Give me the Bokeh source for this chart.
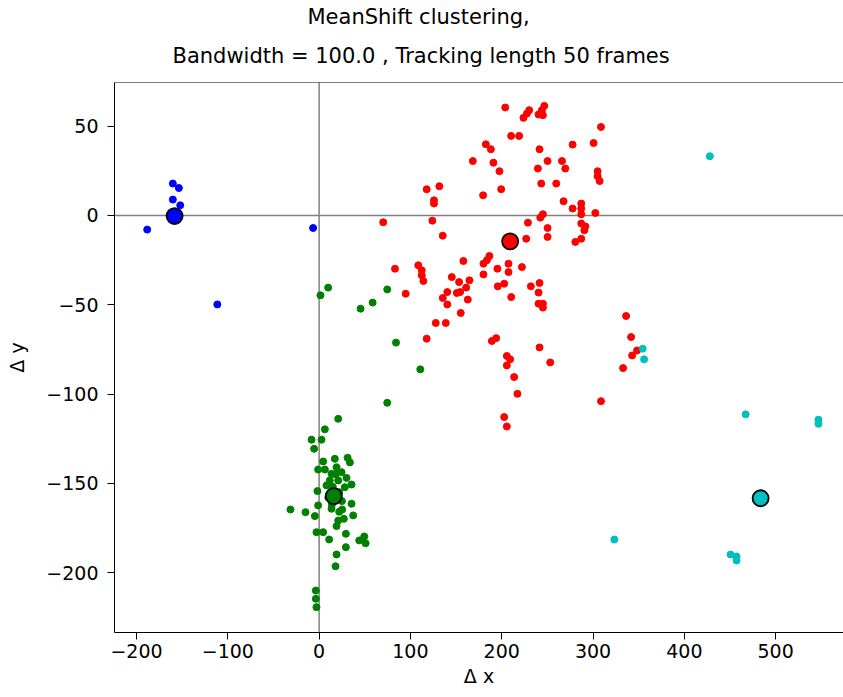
from bokeh.plotting import figure
from bokeh.models import Span, Title, FixedTicker, Range1d
from bokeh.embed import file_html
from bokeh.resources import INLINE

# ---- data ----
blue_x = [-160.2, -153.6, -160.2, -152.1, -188.3, -6.6, -111.5, -158.0]
blue_y = [17.9, 15.4, 8.9, 5.7, -7.9, -7.0, -49.8, 0.5]

green_x = [9.9, 1.5, 74.6, 58.6, 45.4, 84.2, 110.8, 74.6,
           20.9, 6.3, -8.3, 2.6, -5.5, 4.4, 31.2, 33.7, 17.2, -1.1, 6.3, 19.1,
           24.6, 13.6, 11.7, 20.9, 35.5, 8.1, 28.2, -1.8, -31.4, -14.9, -4.7,
           -1.1, 13.6, 25.2, 35.5, 37.3, 27.1, 20.9, 19.1, -2.9, 4.4, 11.0,
           29.3, 43.9, 49.4, 50.9, 29.3, 19.1, 18.0, -3.6, -3.6, -2.9,
           18.0, 22.0, 10.0, 25.0, 14.0, 30.0, 15.0, 22.0]
green_y = [-40.4, -44.7, -41.4, -48.8, -52.2, -71.2, -86.2, -104.9,
           -113.9, -119.8, -125.6, -125.6, -130.7, -137.8, -135.7, -138.3, -136.3, -142.3, -142.3, -141.0,
           -143.8, -144.7, -148.4, -148.4, -150.7, -151.2, -152.2, -154.4, -164.7, -166.2, -168.4,
           -162.4, -164.3, -164.7, -161.5, -168.0, -169.9, -170.9, -174.0, -177.4, -177.4, -181.5,
           -178.3, -182.0, -179.8, -183.6, -185.8, -189.9, -196.5, -210.1, -214.7, -219.4,
           -145.0, -155.0, -158.0, -160.0, -162.0, -147.0, -152.0, -166.0]

red_x = [203.8, 230.1, 227.6, 223.8, 246.6, 244.0, 240.3, 245.1, 308.7, 210.3,
         219.1, 182.6, 188.1, 241.4, 277.6, 300.6, 168.3, 190.9, 250.2, 266.0,
         269.6, 239.6, 197.5, 305.0, 305.0, 307.2, 243.3, 259.7, 117.8, 131.7,
         199.4, 125.8, 125.8, 179.6, 267.7, 287.1, 277.6, 287.1, 287.1, 302.5,
         245.1, 242.2, 70.2, 124.0, 228.7, 250.2, 287.1, 291.6, 290.5, 135.4,
         226.8, 250.2, 280.6, 287.1, 158.0, 186.5, 183.7, 180.0, 207.4, 222.1,
         83.1, 108.6, 195.3, 112.4, 112.4, 114.2, 207.4, 180.0, 145.3, 153.3,
         164.6, 161.0, 154.4, 150.8, 140.4, 135.4, 140.4, 162.8, 155.1, 94.8,
         195.7, 202.7, 210.4, 231.9, 241.4, 240.3, 240.3, 245.1, 245.1, 127.7,
         138.7, 117.8, 189.2, 193.9, 241.4, 253.1, 205.6, 209.2, 205.6, 213.6,
         217.2, 202.7, 205.6, 336.2, 341.7, 348.2, 342.8, 332.9, 308.7]
red_y = [60.5, 59.0, 57.1, 54.7, 61.4, 59.0, 56.6, 56.2, 49.6, 44.6,
         44.6, 39.9, 37.1, 37.1, 39.7, 40.6, 30.5, 29.6, 30.5, 30.5,
         26.3, 26.3, 24.8, 24.8, 22.0, 19.3, 17.9, 17.9, 14.7, 16.4,
         14.7, 8.5, 6.7, 11.3, 8.0, 6.7, 3.9, 3.9, 0.7, 1.4,
         0.7, -1.2, -3.8, -2.9, -4.0, -7.0, -4.5, -6.1, -8.3, -11.3,
         -13.0, -12.0, -14.8, -13.0, -25.5, -22.7, -25.1, -27.0, -27.0, -28.9,
         -29.8, -27.9, -29.8, -30.7, -33.5, -36.7, -31.7, -33.0, -34.5, -37.3,
         -36.3, -40.4, -42.9, -43.4, -42.9, -46.2, -49.8, -47.1, -54.6, -43.8,
         -39.7, -38.2, -45.7, -39.7, -37.8, -43.2, -49.4, -49.4, -51.6, -60.2,
         -60.2, -69.0, -70.3, -68.7, -73.9, -82.3, -78.7, -80.6, -84.0, -90.5,
         -99.9, -112.9, -118.2, -56.3, -68.1, -75.6, -78.4, -85.5, -104.0]

cyan_x = [427.9, 354.4, 355.9, 467.1, 546.9, 546.9, 323.3, 450.6, 457.2, 457.2]
cyan_y = [33.2, -74.6, -80.6, -111.4, -114.4, -116.7, -181.5, -189.9, -191.0, -193.3]

center_x = [-158.3, 16.1, 209.2, 483.5]
center_y = [-0.3, -157.2, -14.5, -158.4]
center_colors = ["#0000ff", "#008000", "#ff0000", "#00bfbf"]

x_ticks = [-200, -100, 0, 100, 200, 300, 400, 500]
y_ticks = [-200, -150, -100, -50, 0, 50]

title_lines = ["MeanShift clustering,", "Bandwidth = 100.0 , Tracking length 50 frames"]

FONT = "DejaVu Sans"
Y_TOP = 74.5

p = figure(width=843, height=697, output_backend="svg", toolbar_location=None,
           x_range=Range1d(-224.1, 574.3), y_range=Range1d(-233.6, Y_TOP),
           min_border_left=114, min_border_right=0, min_border_top=82, min_border_bottom=65)
p.title = None
p.xgrid.visible = False
p.ygrid.visible = False
p.outline_line_color = None

# zero lines
p.add_layout(Span(location=0, dimension="width", line_color="#808080", line_width=1.5, level="underlay"))
p.add_layout(Span(location=0, dimension="height", line_color="#808080", line_width=1.5, level="underlay"))
# top frame line
p.add_layout(Span(location=Y_TOP, dimension="width", line_color="black", line_width=1))

p.scatter(blue_x, blue_y, size=7, color="#0000ff")
p.scatter(green_x, green_y, size=7, color="#008000")
p.scatter(red_x, red_y, size=7, color="#ff0000")
p.scatter(cyan_x, cyan_y, size=7, color="#00bfbf")
p.scatter(center_x, center_y, size=16, fill_color=center_colors, line_color="black", line_width=1.8)

for ax in (p.xaxis, p.yaxis):
    ax.major_label_text_font = FONT
    ax.major_label_text_font_size = "19px"
    ax.major_label_text_color = "#000000"
    ax.axis_label_text_font = FONT
    ax.axis_label_text_font_size = "19px"
    ax.axis_label_text_font_style = "normal"
    ax.axis_label_text_color = "#000000"
    ax.major_tick_out = 7
    ax.major_tick_in = 0
    ax.minor_tick_line_color = None
    ax.axis_line_color = "black"
    ax.major_tick_line_color = "black"

p.xaxis.ticker = FixedTicker(ticks=x_ticks)
p.yaxis.ticker = FixedTicker(ticks=y_ticks)
p.xaxis.major_label_overrides = {t: (str(t) if t >= 0 else "\u2212" + str(-t)) for t in x_ticks}
p.yaxis.major_label_overrides = {t: (str(t) if t >= 0 else "\u2212" + str(-t)) for t in y_ticks}
p.xaxis.axis_label = "\u0394 x"
p.yaxis.axis_label = "\u0394 y"
p.xaxis.major_label_standoff = 4
p.xaxis.axis_label_standoff = 4
p.yaxis.major_label_standoff = 9
p.yaxis.axis_label_standoff = 15

t2 = Title(text=title_lines[1], align="left", offset=58, vertical_align="top",
           text_font=FONT, text_font_size="21px", text_font_style="normal", text_color="#000000",
           standoff=26)
t1 = Title(text=title_lines[0], align="left", offset=193, vertical_align="top",
           text_font=FONT, text_font_size="21px", text_font_style="normal", text_color="#000000",
           standoff=0)
p.add_layout(t2, "above")
p.add_layout(t1, "above")

open("out.html", "w").write(file_html(p, INLINE))
